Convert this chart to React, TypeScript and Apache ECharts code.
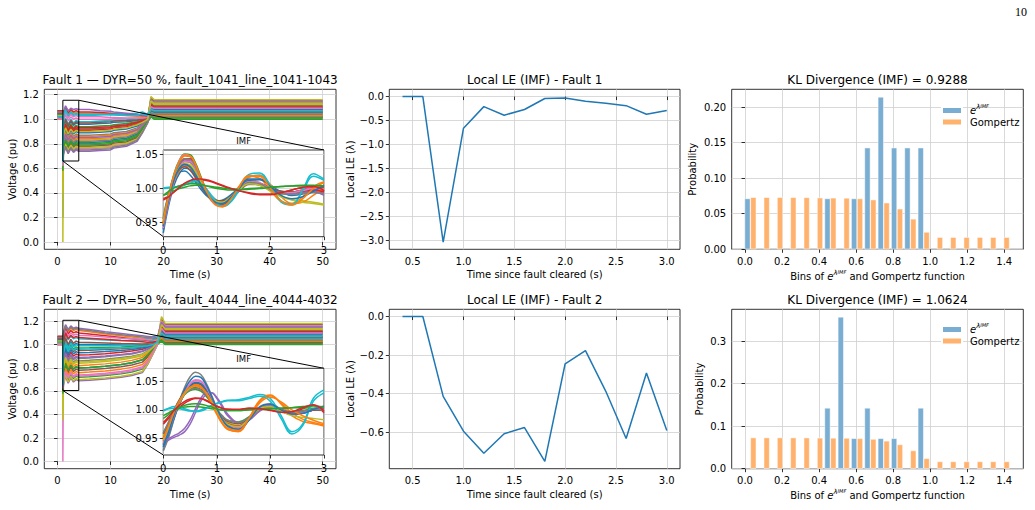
import React, { useEffect, useRef } from "react";
import * as echarts from "echarts";

// ---------------------------------------------------------------------------
// Palette and fonts
// ---------------------------------------------------------------------------
const TAB10 = ["#1f77b4", "#ff7f0e", "#2ca02c", "#d62728", "#9467bd", "#8c564b", "#e377c2", "#7f7f7f", "#bcbd22", "#17becf"];
const FONT = "DejaVu Sans";
const GRID_COLOR = "#cfcfcf";
const BLUE_BAR = "#79add2";
const ORANGE_BAR = "#ffb26e";

// ---------------------------------------------------------------------------
// Fault 1: bus voltages (pu) against simulation time (s)
// ---------------------------------------------------------------------------
const F1_TIME = [0, 1.0, 1.0, 1.1, 1.5, 2.0, 2.5, 3.0, 3.5, 4.0, 6.0, 8.0, 10.0, 10.6, 13.0, 15.0, 16.0, 17.0, 17.6, 18.2, 25.0, 50.0];
const F1_VOLTAGES = [
  [1.02, 1.02, 0.20, 0.78, 0.84, 0.79, 0.83, 0.80, 0.82, 0.81, 0.81, 0.815, 0.82, 0.835, 0.845, 0.88, 0.93, 0.99, 1.07, 1.05, 1.05, 1.05],
  [1.00, 1.00, 0.55, 1.02, 1.09, 1.04, 1.07, 1.05, 1.06, 1.05, 1.05, 1.045, 1.04, 1.04, 1.03, 1.025, 1.02, 1.015, 1.02, 1.01, 1.01, 1.01],
  [1.03, 1.03, 0.70, 0.76, 0.82, 0.77, 0.81, 0.78, 0.80, 0.79, 0.79, 0.795, 0.80, 0.815, 0.825, 0.86, 0.92, 0.98, 1.02, 1.00, 1.00, 1.00],
  [1.07, 1.07, 0.80, 1.04, 1.10, 1.05, 1.08, 1.06, 1.07, 1.06, 1.06, 1.055, 1.05, 1.048, 1.04, 1.035, 1.03, 1.025, 1.03, 1.02, 1.02, 1.02],
  [1.00, 1.00, 0.62, 0.71, 0.77, 0.72, 0.76, 0.73, 0.75, 0.74, 0.74, 0.745, 0.75, 0.765, 0.78, 0.82, 0.89, 0.97, 1.10, 1.08, 1.08, 1.08],
  [1.04, 1.04, 0.75, 0.89, 0.95, 0.90, 0.94, 0.91, 0.93, 0.92, 0.92, 0.925, 0.93, 0.94, 0.95, 0.97, 0.99, 1.01, 1.17, 1.15, 1.15, 1.15],
  [1.06, 1.06, 0.65, 0.73, 0.79, 0.74, 0.78, 0.75, 0.77, 0.76, 0.76, 0.765, 0.77, 0.785, 0.80, 0.84, 0.90, 0.98, 1.14, 1.12, 1.12, 1.12],
  [1.01, 1.01, 0.72, 0.84, 0.90, 0.85, 0.89, 0.86, 0.88, 0.87, 0.87, 0.875, 0.88, 0.89, 0.90, 0.93, 0.96, 1.00, 1.12, 1.10, 1.10, 1.10],
  [1.05, 1.05, 0.00, 0.80, 0.86, 0.81, 0.85, 0.82, 0.84, 0.83, 0.83, 0.835, 0.84, 0.855, 0.865, 0.90, 0.95, 1.00, 1.185, 1.16, 1.16, 1.16],
  [1.04, 1.04, 0.68, 1.00, 1.07, 1.02, 1.05, 1.03, 1.04, 1.03, 1.03, 1.035, 1.04, 1.04, 1.045, 1.05, 1.06, 1.04, 1.08, 1.07, 1.07, 1.07],
  [1.06, 1.06, 0.78, 0.93, 0.99, 0.94, 0.98, 0.95, 0.97, 0.96, 0.96, 0.965, 0.97, 0.975, 0.98, 0.99, 1.00, 1.01, 1.10, 1.09, 1.09, 1.09],
  [1.02, 1.02, 0.50, 0.81, 0.87, 0.82, 0.86, 0.83, 0.85, 0.84, 0.84, 0.845, 0.85, 0.865, 0.875, 0.91, 0.95, 1.00, 1.06, 1.04, 1.04, 1.04],
  [1.00, 1.00, 0.66, 0.91, 0.97, 0.92, 0.96, 0.93, 0.95, 0.94, 0.94, 0.945, 0.95, 0.955, 0.965, 0.98, 0.99, 1.00, 1.04, 1.03, 1.03, 1.03],
  [1.05, 1.05, 0.74, 0.88, 0.94, 0.89, 0.93, 0.90, 0.92, 0.91, 0.91, 0.915, 0.92, 0.93, 0.94, 0.96, 0.98, 1.00, 1.07, 1.06, 1.06, 1.06],
  [1.03, 1.03, 0.70, 1.05, 1.11, 1.07, 1.09, 1.08, 1.085, 1.08, 1.08, 1.07, 1.065, 1.06, 1.05, 1.04, 1.035, 1.03, 1.14, 1.13, 1.13, 1.13],
  [1.07, 1.07, 0.82, 0.75, 0.81, 0.76, 0.80, 0.77, 0.79, 0.78, 0.78, 0.785, 0.79, 0.805, 0.815, 0.85, 0.91, 0.98, 1.13, 1.11, 1.11, 1.11],
  [1.01, 1.01, 0.60, 0.97, 1.04, 0.99, 1.02, 1.00, 1.01, 1.00, 1.00, 1.00, 1.00, 1.005, 1.005, 1.01, 1.01, 1.015, 1.15, 1.14, 1.14, 1.14],
  [1.05, 1.05, 0.76, 0.79, 0.85, 0.80, 0.84, 0.81, 0.83, 0.82, 0.82, 0.825, 0.83, 0.845, 0.855, 0.89, 0.94, 0.99, 1.03, 1.02, 1.02, 1.02],
  [1.00, 1.00, 0.40, 0.74, 0.80, 0.75, 0.79, 0.76, 0.78, 0.77, 0.77, 0.775, 0.78, 0.795, 0.805, 0.84, 0.90, 0.98, 1.15, 1.12, 1.12, 1.12],
  [1.06, 1.06, 0.72, 0.95, 1.01, 0.96, 1.00, 0.97, 0.99, 0.98, 0.98, 0.985, 0.99, 0.99, 0.995, 1.00, 1.01, 1.015, 1.06, 1.05, 1.05, 1.05],
  [1.04, 1.04, 0.68, 0.86, 0.92, 0.87, 0.91, 0.88, 0.90, 0.89, 0.89, 0.895, 0.90, 0.91, 0.92, 0.945, 0.97, 1.00, 1.09, 1.08, 1.08, 1.08],
  [1.01, 1.01, 0.64, 0.83, 0.89, 0.84, 0.88, 0.85, 0.87, 0.86, 0.86, 0.865, 0.87, 0.88, 0.89, 0.92, 0.955, 1.00, 1.04, 1.03, 1.03, 1.03],
  [1.03, 1.03, 0.58, 0.77, 0.83, 0.78, 0.82, 0.79, 0.81, 0.80, 0.80, 0.805, 0.81, 0.825, 0.835, 0.87, 0.925, 0.985, 1.02, 1.01, 1.01, 1.01],
  [1.07, 1.07, 0.80, 0.90, 0.96, 0.91, 0.95, 0.92, 0.94, 0.93, 0.93, 0.935, 0.94, 0.945, 0.955, 0.975, 0.99, 1.005, 1.115, 1.10, 1.10, 1.10],
  [1.02, 1.02, 0.66, 0.82, 0.88, 0.83, 0.87, 0.84, 0.86, 0.85, 0.85, 0.855, 0.86, 0.875, 0.885, 0.915, 0.955, 1.00, 1.16, 1.14, 1.14, 1.14],
  [1.05, 1.05, 0.78, 0.94, 1.00, 0.95, 0.99, 0.96, 0.98, 0.97, 0.97, 0.975, 0.98, 0.985, 0.99, 0.995, 1.00, 1.01, 1.07, 1.06, 1.06, 1.06],
  [1.00, 1.00, 0.62, 0.99, 1.06, 1.01, 1.04, 1.02, 1.03, 1.02, 1.02, 1.02, 1.015, 1.015, 1.01, 1.01, 1.01, 1.015, 1.10, 1.09, 1.09, 1.09],
  [1.06, 1.06, 0.74, 0.72, 0.78, 0.73, 0.77, 0.74, 0.76, 0.75, 0.75, 0.755, 0.76, 0.775, 0.79, 0.83, 0.895, 0.975, 1.05, 1.04, 1.04, 1.04],
  [1.03, 1.03, 0.70, 0.87, 0.93, 0.88, 0.92, 0.89, 0.91, 0.90, 0.90, 0.905, 0.91, 0.92, 0.93, 0.955, 0.975, 1.00, 1.15, 1.13, 1.13, 1.13],
  [1.02, 1.02, 0.65, 1.01, 1.08, 1.03, 1.06, 1.04, 1.05, 1.04, 1.04, 1.04, 1.035, 1.035, 1.03, 1.03, 1.045, 1.03, 1.08, 1.07, 1.07, 1.07],
];

// ---------------------------------------------------------------------------
// Fault 2: bus voltages (pu) against simulation time (s)
// ---------------------------------------------------------------------------
const F2_TIME = [0, 1.0, 1.0, 1.1, 1.5, 2.0, 2.5, 3.0, 3.5, 4.0, 6.0, 9.0, 12.0, 14.0, 16.0, 17.0, 18.0, 18.8, 19.6, 20.3, 30.0, 50.0];
const F2_VOLTAGES = [
  [1.02, 1.02, 0.45, 0.76, 0.84, 0.78, 0.825, 0.79, 0.81, 0.80, 0.805, 0.815, 0.83, 0.845, 0.87, 0.91, 0.96, 1.02, 1.10, 1.06, 1.06, 1.06],
  [1.00, 1.00, 0.62, 1.08, 1.16, 1.11, 1.14, 1.12, 1.13, 1.12, 1.11, 1.09, 1.075, 1.065, 1.055, 1.05, 1.045, 1.04, 1.05, 1.02, 1.02, 1.02],
  [1.03, 1.03, 0.70, 0.68, 0.76, 0.70, 0.745, 0.71, 0.73, 0.72, 0.725, 0.735, 0.75, 0.765, 0.79, 0.85, 0.93, 1.00, 1.03, 1.00, 1.00, 1.00],
  [1.07, 1.07, 0.80, 1.06, 1.14, 1.09, 1.12, 1.10, 1.11, 1.10, 1.09, 1.075, 1.06, 1.05, 1.04, 1.035, 1.03, 1.025, 1.04, 1.02, 1.02, 1.02],
  [1.00, 1.00, 0.60, 0.65, 0.73, 0.67, 0.715, 0.68, 0.70, 0.69, 0.695, 0.705, 0.72, 0.735, 0.76, 0.83, 0.92, 0.995, 1.13, 1.09, 1.09, 1.09],
  [1.04, 1.04, 0.75, 0.91, 0.99, 0.93, 0.975, 0.94, 0.96, 0.95, 0.952, 0.958, 0.965, 0.97, 0.98, 0.99, 1.00, 1.02, 1.22, 1.17, 1.17, 1.17],
  [1.06, 1.06, 0.00, 0.70, 0.78, 0.72, 0.765, 0.73, 0.75, 0.74, 0.745, 0.755, 0.77, 0.785, 0.81, 0.86, 0.94, 1.005, 1.17, 1.13, 1.13, 1.13],
  [1.01, 1.01, 0.72, 0.84, 0.92, 0.86, 0.905, 0.87, 0.89, 0.88, 0.885, 0.895, 0.91, 0.92, 0.94, 0.96, 0.985, 1.02, 1.15, 1.11, 1.11, 1.11],
  [1.05, 1.05, 0.35, 0.80, 0.88, 0.82, 0.865, 0.83, 0.85, 0.84, 0.845, 0.855, 0.87, 0.885, 0.905, 0.935, 0.975, 1.02, 1.24, 1.18, 1.18, 1.18],
  [1.04, 1.04, 0.55, 1.01, 1.09, 1.04, 1.07, 1.05, 1.06, 1.05, 1.045, 1.04, 1.035, 1.035, 1.04, 1.05, 1.07, 1.075, 1.10, 1.08, 1.08, 1.08],
  [1.06, 1.06, 0.78, 0.96, 1.04, 0.98, 1.025, 0.99, 1.01, 1.00, 1.00, 0.998, 0.996, 0.995, 0.995, 1.00, 1.005, 1.02, 1.13, 1.10, 1.10, 1.10],
  [1.02, 1.02, 0.65, 0.78, 0.86, 0.80, 0.845, 0.81, 0.83, 0.82, 0.825, 0.835, 0.85, 0.865, 0.89, 0.925, 0.97, 1.015, 1.07, 1.04, 1.04, 1.04],
  [1.00, 1.00, 0.66, 0.93, 1.01, 0.95, 0.995, 0.96, 0.98, 0.97, 0.972, 0.976, 0.98, 0.984, 0.99, 0.995, 1.00, 1.015, 1.06, 1.03, 1.03, 1.03],
  [1.05, 1.05, 0.74, 0.87, 0.95, 0.89, 0.935, 0.90, 0.92, 0.91, 0.914, 0.922, 0.935, 0.945, 0.96, 0.975, 0.99, 1.02, 1.11, 1.07, 1.07, 1.07],
  [1.03, 1.03, 0.70, 1.10, 1.17, 1.13, 1.16, 1.14, 1.15, 1.14, 1.13, 1.11, 1.095, 1.085, 1.075, 1.07, 1.065, 1.06, 1.19, 1.15, 1.15, 1.15],
  [1.07, 1.07, 0.82, 0.74, 0.82, 0.76, 0.805, 0.77, 0.79, 0.78, 0.785, 0.795, 0.81, 0.825, 0.85, 0.895, 0.955, 1.015, 1.16, 1.12, 1.12, 1.12],
  [1.01, 1.01, 0.60, 1.04, 1.12, 1.07, 1.10, 1.08, 1.09, 1.08, 1.075, 1.065, 1.055, 1.05, 1.045, 1.04, 1.04, 1.04, 1.20, 1.16, 1.16, 1.16],
  [1.05, 1.05, 0.76, 0.82, 0.90, 0.84, 0.885, 0.85, 0.87, 0.86, 0.865, 0.875, 0.89, 0.90, 0.92, 0.945, 0.975, 1.015, 1.04, 1.01, 1.01, 1.01],
  [1.00, 1.00, 0.40, 0.66, 0.74, 0.68, 0.725, 0.69, 0.71, 0.70, 0.705, 0.715, 0.73, 0.745, 0.77, 0.835, 0.925, 0.998, 1.18, 1.14, 1.14, 1.14],
  [1.06, 1.06, 0.72, 0.95, 1.03, 0.97, 1.015, 0.98, 1.00, 0.99, 0.99, 0.99, 0.992, 0.995, 1.00, 1.01, 1.04, 1.06, 1.08, 1.05, 1.05, 1.05],
  [1.04, 1.04, 0.68, 0.89, 0.97, 0.91, 0.955, 0.92, 0.94, 0.93, 0.933, 0.94, 0.95, 0.958, 0.97, 0.98, 0.995, 1.02, 1.13, 1.09, 1.09, 1.09],
  [1.01, 1.01, 0.64, 0.72, 0.80, 0.74, 0.785, 0.75, 0.77, 0.76, 0.765, 0.775, 0.79, 0.805, 0.83, 0.875, 0.945, 1.01, 1.06, 1.03, 1.03, 1.03],
  [1.03, 1.03, 0.58, 0.76, 0.84, 0.78, 0.825, 0.79, 0.81, 0.80, 0.805, 0.815, 0.83, 0.845, 0.87, 0.91, 0.96, 1.015, 1.04, 1.01, 1.01, 1.01],
  [1.07, 1.07, 0.80, 1.02, 1.10, 1.05, 1.08, 1.06, 1.07, 1.06, 1.055, 1.045, 1.035, 1.03, 1.025, 1.02, 1.02, 1.02, 1.15, 1.11, 1.11, 1.11],
  [1.02, 1.02, 0.66, 0.85, 0.93, 0.87, 0.915, 0.88, 0.90, 0.89, 0.894, 0.903, 0.915, 0.925, 0.945, 0.965, 0.985, 1.02, 1.19, 1.15, 1.15, 1.15],
  [1.05, 1.05, 0.78, 0.98, 1.06, 1.00, 1.045, 1.01, 1.03, 1.02, 1.018, 1.014, 1.01, 1.008, 1.006, 1.006, 1.008, 1.02, 1.09, 1.06, 1.06, 1.06],
  [1.00, 1.00, 0.62, 0.69, 0.77, 0.71, 0.755, 0.72, 0.74, 0.73, 0.735, 0.745, 0.76, 0.775, 0.80, 0.855, 0.935, 1.003, 1.14, 1.10, 1.10, 1.10],
  [1.06, 1.06, 0.74, 1.09, 1.16, 1.12, 1.15, 1.13, 1.14, 1.13, 1.12, 1.10, 1.085, 1.075, 1.065, 1.06, 1.055, 1.05, 1.07, 1.04, 1.04, 1.04],
  [1.03, 1.03, 0.70, 0.81, 0.89, 0.83, 0.875, 0.84, 0.86, 0.85, 0.855, 0.865, 0.88, 0.893, 0.915, 0.94, 0.975, 1.02, 1.17, 1.13, 1.13, 1.13],
  [1.02, 1.02, 0.65, 0.92, 1.00, 0.94, 0.985, 0.95, 0.97, 0.96, 0.962, 0.967, 0.972, 0.976, 0.985, 0.99, 1.00, 1.02, 1.10, 1.07, 1.07, 1.07],
];

// Zoom boxes drawn on the voltage plots (time s, voltage pu)
const F1_BOX_T = [1.0, 4.0];
const F1_BOX_V = [0.66, 1.155];
const F2_BOX_T = [1.0, 4.0];
const F2_BOX_V = [0.607, 1.208];

// ---------------------------------------------------------------------------
// IMF insets: time since fault cleared (s)
// ---------------------------------------------------------------------------
const IMF_TIME = [0, 0.1, 0.2, 0.3, 0.4, 0.5, 0.6, 0.7, 0.8, 0.9, 1.0, 1.1, 1.2, 1.4, 1.6, 1.8, 2.0, 2.2, 2.4, 2.6, 2.8, 3.0];
const IMF1_CURVES = [
  [0.935, 0.975, 1.005, 1.022, 1.030, 1.028, 1.018, 1.005, 0.993, 0.985, 0.980, 0.979, 0.982, 0.995, 1.008, 1.006, 0.998, 0.993, 0.994, 0.998, 1.000, 0.997],
  [0.945, 0.985, 1.018, 1.038, 1.048, 1.047, 1.035, 1.015, 0.996, 0.982, 0.975, 0.974, 0.980, 1.002, 1.018, 1.015, 0.997, 0.981, 0.977, 0.988, 1.003, 1.010],
  [0.950, 0.990, 1.022, 1.042, 1.051, 1.050, 1.038, 1.018, 0.998, 0.984, 0.977, 0.976, 0.981, 0.999, 1.012, 1.008, 0.998, 0.992, 0.993, 0.997, 0.999, 0.996],
  [0.985, 0.989, 0.995, 1.001, 1.007, 1.011, 1.013, 1.013, 1.012, 1.010, 1.007, 1.004, 1.001, 0.997, 0.994, 0.992, 0.992, 0.994, 0.998, 1.001, 1.001, 0.996],
  [0.940, 0.980, 1.012, 1.032, 1.042, 1.041, 1.030, 1.012, 0.995, 0.983, 0.977, 0.977, 0.982, 0.998, 1.010, 1.007, 0.999, 0.994, 0.993, 0.995, 0.996, 0.993],
  [0.955, 0.990, 1.016, 1.030, 1.036, 1.034, 1.024, 1.010, 0.996, 0.986, 0.981, 0.980, 0.984, 0.998, 1.009, 1.007, 1.000, 0.995, 0.995, 0.998, 0.999, 0.997],
  [0.945, 0.985, 1.020, 1.041, 1.050, 1.048, 1.035, 1.014, 0.995, 0.982, 0.976, 0.976, 0.982, 1.001, 1.013, 1.009, 0.999, 0.993, 0.994, 0.998, 1.000, 0.998],
  [0.950, 0.988, 1.014, 1.028, 1.034, 1.033, 1.025, 1.012, 0.999, 0.989, 0.983, 0.981, 0.983, 0.995, 1.006, 1.006, 1.001, 0.996, 0.994, 0.995, 0.998, 1.001],
  [0.960, 0.993, 1.018, 1.033, 1.040, 1.038, 1.028, 1.012, 0.997, 0.986, 0.980, 0.979, 0.983, 0.998, 1.010, 1.008, 0.998, 0.989, 0.984, 0.982, 0.980, 0.977],
  [1.001, 1.002, 1.002, 1.003, 1.005, 1.008, 1.010, 1.008, 1.000, 0.990, 0.981, 0.976, 0.977, 0.995, 1.017, 1.020, 1.003, 0.982, 0.978, 0.996, 1.018, 1.012],
  [0.940, 0.982, 1.010, 1.024, 1.026, 1.020, 1.010, 0.999, 0.990, 0.984, 0.982, 0.983, 0.987, 1.000, 1.012, 1.013, 1.005, 0.995, 0.990, 0.992, 0.998, 1.004],
  [0.950, 0.983, 1.010, 1.026, 1.033, 1.031, 1.022, 1.008, 0.994, 0.983, 0.977, 0.976, 0.981, 1.000, 1.017, 1.019, 1.006, 0.988, 0.978, 0.980, 0.990, 1.001],
  [0.990, 0.993, 0.997, 1.000, 1.002, 1.004, 1.005, 1.005, 1.004, 1.003, 1.002, 1.001, 1.000, 0.999, 1.000, 1.001, 1.002, 1.003, 1.004, 1.004, 1.003, 1.002],
  [0.945, 0.984, 1.014, 1.034, 1.044, 1.044, 1.034, 1.016, 0.998, 0.985, 0.978, 0.977, 0.981, 0.997, 1.009, 1.006, 0.998, 0.993, 0.993, 0.996, 0.998, 0.995],
  [0.955, 0.991, 1.017, 1.033, 1.040, 1.039, 1.030, 1.014, 0.998, 0.986, 0.979, 0.978, 0.982, 0.996, 1.007, 1.005, 0.998, 0.993, 0.992, 0.994, 0.995, 0.990],
  [0.948, 0.986, 1.013, 1.028, 1.032, 1.027, 1.016, 1.003, 0.992, 0.985, 0.982, 0.982, 0.985, 0.997, 1.007, 1.007, 1.001, 0.996, 0.995, 0.997, 1.000, 1.002],
  [0.942, 0.980, 1.011, 1.031, 1.040, 1.040, 1.031, 1.015, 0.999, 0.987, 0.980, 0.979, 0.983, 0.998, 1.010, 1.008, 1.000, 0.994, 0.994, 0.997, 1.000, 0.999],
  [0.958, 0.992, 1.019, 1.036, 1.044, 1.043, 1.033, 1.016, 0.999, 0.986, 0.979, 0.978, 0.982, 0.997, 1.009, 1.007, 0.999, 0.993, 0.992, 0.993, 0.994, 0.992],
  [0.952, 0.988, 1.015, 1.031, 1.037, 1.035, 1.025, 1.010, 0.996, 0.986, 0.981, 0.980, 0.984, 0.997, 1.007, 1.005, 0.996, 0.988, 0.983, 0.980, 0.978, 0.976],
  [1.000, 1.001, 1.002, 1.004, 1.007, 1.010, 1.011, 1.007, 0.998, 0.987, 0.978, 0.974, 0.976, 0.997, 1.021, 1.023, 1.004, 0.980, 0.976, 0.998, 1.022, 1.014],
  [0.944, 0.983, 1.013, 1.030, 1.036, 1.032, 1.021, 1.006, 0.993, 0.984, 0.979, 0.978, 0.982, 0.999, 1.014, 1.014, 1.003, 0.990, 0.985, 0.988, 0.996, 1.005],
  [0.948, 0.988, 1.020, 1.040, 1.049, 1.048, 1.036, 1.016, 0.997, 0.983, 0.975, 0.973, 0.978, 1.000, 1.019, 1.018, 1.000, 0.982, 0.976, 0.985, 1.000, 1.009],
  [0.990, 0.996, 1.001, 1.004, 1.006, 1.007, 1.007, 1.006, 1.004, 1.002, 1.000, 0.999, 0.998, 0.998, 0.999, 1.000, 1.002, 1.003, 1.004, 1.005, 1.005, 1.004],
  [0.983, 0.988, 0.995, 1.002, 1.008, 1.012, 1.014, 1.014, 1.013, 1.011, 1.008, 1.005, 1.002, 0.997, 0.993, 0.991, 0.991, 0.994, 0.998, 1.002, 1.003, 0.997],
];
const IMF2_CURVES = [
  [0.930, 0.955, 0.985, 1.010, 1.028, 1.040, 1.046, 1.044, 1.034, 1.018, 1.000, 0.985, 0.975, 0.970, 0.985, 1.005, 1.008, 0.998, 0.992, 0.995, 1.002, 1.005],
  [0.945, 0.970, 0.995, 1.015, 1.030, 1.040, 1.045, 1.042, 1.030, 1.012, 0.993, 0.977, 0.966, 0.962, 0.985, 1.015, 1.025, 1.012, 0.995, 0.984, 0.978, 0.974],
  [0.960, 0.978, 0.998, 1.015, 1.027, 1.034, 1.036, 1.033, 1.024, 1.012, 0.999, 0.989, 0.982, 0.979, 0.988, 1.001, 1.004, 1.000, 0.997, 0.999, 1.002, 1.003],
  [0.975, 0.985, 0.995, 1.004, 1.012, 1.017, 1.020, 1.020, 1.017, 1.012, 1.007, 1.003, 1.001, 1.000, 1.003, 1.003, 1.000, 0.996, 0.995, 1.002, 1.008, 0.995],
  [0.940, 0.947, 0.952, 0.956, 0.962, 0.975, 0.995, 1.015, 1.027, 1.030, 1.022, 1.008, 0.993, 0.978, 0.982, 0.998, 1.006, 1.002, 0.996, 0.996, 1.000, 1.002],
  [0.950, 0.972, 0.996, 1.016, 1.031, 1.042, 1.047, 1.045, 1.035, 1.019, 1.001, 0.986, 0.976, 0.970, 0.983, 1.002, 1.007, 0.999, 0.993, 0.995, 1.000, 1.002],
  [0.935, 0.958, 0.986, 1.011, 1.030, 1.044, 1.051, 1.049, 1.038, 1.021, 1.002, 0.986, 0.975, 0.969, 0.984, 1.004, 1.008, 0.999, 0.993, 0.996, 1.002, 1.006],
  [0.928, 0.952, 0.984, 1.015, 1.040, 1.058, 1.066, 1.062, 1.047, 1.026, 1.003, 0.984, 0.971, 0.966, 0.983, 1.006, 1.011, 1.001, 0.993, 0.994, 1.001, 1.007],
  [0.955, 0.975, 0.998, 1.017, 1.030, 1.038, 1.041, 1.039, 1.030, 1.016, 1.000, 0.987, 0.978, 0.973, 0.985, 1.002, 1.006, 0.999, 0.994, 0.996, 1.000, 1.001],
  [1.000, 1.002, 1.003, 1.002, 1.000, 0.998, 0.998, 1.000, 1.004, 1.008, 1.012, 1.015, 1.017, 1.018, 1.022, 1.027, 1.020, 0.990, 0.962, 0.975, 1.020, 1.035],
  [0.935, 0.958, 0.986, 1.010, 1.029, 1.042, 1.048, 1.046, 1.036, 1.019, 1.000, 0.984, 0.973, 0.967, 0.982, 1.003, 1.008, 0.999, 0.992, 0.994, 1.000, 1.004],
  [0.940, 0.964, 0.990, 1.012, 1.028, 1.038, 1.043, 1.040, 1.029, 1.011, 0.992, 0.976, 0.966, 0.963, 0.986, 1.017, 1.026, 1.010, 0.990, 0.980, 0.976, 0.972],
  [0.990, 0.995, 1.000, 1.003, 1.005, 1.006, 1.006, 1.005, 1.004, 1.002, 1.001, 1.000, 0.999, 0.999, 1.000, 1.001, 1.002, 1.003, 1.004, 1.004, 1.003, 1.002],
  [0.950, 0.972, 0.996, 1.016, 1.030, 1.039, 1.042, 1.040, 1.031, 1.016, 0.999, 0.985, 0.976, 0.972, 0.985, 1.003, 1.007, 0.999, 0.993, 0.995, 1.000, 1.003],
  [0.945, 0.950, 0.955, 0.960, 0.968, 0.982, 1.002, 1.020, 1.030, 1.030, 1.020, 1.005, 0.990, 0.977, 0.983, 0.999, 1.006, 1.001, 0.995, 0.996, 1.001, 1.004],
  [0.958, 0.978, 1.000, 1.018, 1.030, 1.037, 1.039, 1.036, 1.027, 1.014, 1.000, 0.988, 0.980, 0.976, 0.986, 1.001, 1.005, 1.000, 0.996, 0.997, 1.000, 0.999],
  [0.940, 0.962, 0.990, 1.014, 1.033, 1.046, 1.053, 1.051, 1.040, 1.022, 1.002, 0.985, 0.974, 0.968, 0.983, 1.004, 1.009, 1.000, 0.993, 0.995, 1.001, 1.005],
  [0.960, 0.979, 0.999, 1.016, 1.028, 1.035, 1.038, 1.035, 1.027, 1.014, 1.001, 0.990, 0.982, 0.978, 0.987, 1.001, 1.004, 0.999, 0.996, 0.998, 1.001, 1.000],
  [0.948, 0.970, 0.994, 1.014, 1.029, 1.038, 1.042, 1.040, 1.030, 1.015, 0.998, 0.984, 0.975, 0.971, 0.984, 1.002, 1.006, 0.998, 0.990, 0.987, 0.985, 0.983],
  [0.998, 1.003, 1.006, 1.005, 1.002, 0.999, 0.997, 0.998, 1.002, 1.007, 1.011, 1.014, 1.016, 1.016, 1.020, 1.024, 1.015, 0.985, 0.958, 0.972, 1.015, 1.030],
  [0.938, 0.962, 0.991, 1.016, 1.036, 1.051, 1.059, 1.057, 1.044, 1.024, 1.002, 0.984, 0.972, 0.966, 0.982, 1.005, 1.010, 1.000, 0.993, 0.994, 1.001, 1.006],
  [0.950, 0.972, 0.996, 1.016, 1.031, 1.040, 1.043, 1.040, 1.029, 1.012, 0.994, 0.978, 0.968, 0.964, 0.985, 1.012, 1.022, 1.014, 1.000, 0.990, 0.982, 0.976],
  [0.985, 0.992, 0.999, 1.004, 1.008, 1.010, 1.011, 1.010, 1.008, 1.005, 1.002, 1.000, 0.999, 0.999, 1.001, 1.002, 1.002, 1.003, 1.004, 1.006, 1.007, 1.005],
  [0.978, 0.988, 0.999, 1.008, 1.015, 1.019, 1.021, 1.020, 1.016, 1.011, 1.006, 1.003, 1.001, 1.001, 1.003, 1.002, 0.999, 0.996, 0.997, 1.004, 1.009, 0.998],
];

// ---------------------------------------------------------------------------
// Local Lyapunov exponent of the IMF
// ---------------------------------------------------------------------------
const LE_TIME = [0.4, 0.6, 0.8, 1.0, 1.2, 1.4, 1.6, 1.8, 2.0, 2.2, 2.4, 2.6, 2.8, 3.0];
const LE_F1 = [0.0, 0.0, -3.04, -0.66, -0.21, -0.39, -0.27, -0.04, -0.03, -0.10, -0.14, -0.19, -0.37, -0.29];
const LE_F2 = [0.0, 0.0, -0.414, -0.595, -0.709, -0.608, -0.576, -0.752, -0.245, -0.177, -0.388, -0.633, -0.293, -0.591];

// ---------------------------------------------------------------------------
// Histograms of e^λ against the Gompertz reference
// ---------------------------------------------------------------------------
const BIN_CENTERS = [0.029, 0.101, 0.173, 0.245, 0.317, 0.389, 0.461, 0.533, 0.605, 0.677, 0.749, 0.821, 0.893, 0.965, 1.037, 1.109, 1.181, 1.253, 1.325, 1.397];
const BIN_WIDTH = 0.072;
const EXP_F1 = [0.0714, 0, 0, 0, 0, 0, 0.0714, 0, 0.0714, 0.1429, 0.2143, 0.1429, 0.1429, 0.1429, 0, 0, 0, 0, 0, 0];
const EXP_F2 = [0, 0, 0, 0, 0, 0, 0.1429, 0.3571, 0.0714, 0.1429, 0.0714, 0.0714, 0, 0.1429, 0, 0, 0, 0, 0, 0];
const GOMPERTZ = [0.0732, 0.0732, 0.0732, 0.0731, 0.0730, 0.0726, 0.0724, 0.0722, 0.0714, 0.0698, 0.0655, 0.0570, 0.0428, 0.0243, 0.0170, 0.0170, 0.0170, 0.0170, 0.0170, 0.0170];

// Tick positions
const T_TICKS = [0, 10, 20, 30, 40, 50];
const V_TICKS = [0, 0.2, 0.4, 0.6, 0.8, 1.0, 1.2];
const LE_T_TICKS = [0.5, 1.0, 1.5, 2.0, 2.5, 3.0];
const LE1_TICKS = [0, -0.5, -1.0, -1.5, -2.0, -2.5, -3.0];
const LE2_TICKS = [0, -0.2, -0.4, -0.6];
const BIN_TICKS = [0, 0.2, 0.4, 0.6, 0.8, 1.0, 1.2, 1.4];
const P1_TICKS = [0, 0.05, 0.1, 0.15, 0.2];
const P2_TICKS = [0, 0.1, 0.2, 0.3];
const IMF_T_TICKS = [0, 1, 2, 3];
const IMF_V_TICKS = [0.95, 1.0, 1.05];

const TITLES = [
  ["Fault 1 \u2014 DYR=50 %, fault_1041_line_1041-1043", "Local LE (IMF) - Fault 1", "KL Divergence (IMF) = 0.9288"],
  ["Fault 2 \u2014 DYR=50 %, fault_4044_line_4044-4032", "Local LE (IMF) - Fault 2", "KL Divergence (IMF) = 1.0624"],
];

// ---------------------------------------------------------------------------
// Layout (pixels)
// ---------------------------------------------------------------------------
const COL_LEFT = [44.3, 389.3, 731.7];
const COL_WIDTH = [291.7, 290.7, 291.6];
const ROW_TOP = [89.3, 309.3];
const ROW_HEIGHT = [160, 159.4];
const INSET_LEFT = 163.3;
const INSET_WIDTH = 160.7;
const INSET_HEIGHT = 86.7;
const INSET_TOP = [150, 368.3];

const HIST_X_RANGE: [number, number] = [-0.072, 1.503];

function padded(values: number[]): [number, number] {
  const lo = Math.min(...values);
  const hi = Math.max(...values);
  const d = (hi - lo) * 0.05;
  return [lo - d, hi + d];
}

const withMinus = (s: string) => s.replace("-", "\u2212");

const MATH_RICH = {
  t: { fontFamily: FONT, fontSize: 10, color: "#000", lineHeight: 14 },
  e: { fontFamily: FONT, fontSize: 10, fontStyle: "italic", color: "#000", lineHeight: 14 },
  l: { fontFamily: FONT, fontSize: 7, fontStyle: "italic", color: "#000", lineHeight: 7, verticalAlign: "top" },
  s: { fontFamily: FONT, fontSize: 5, fontStyle: "italic", color: "#000", lineHeight: 11, verticalAlign: "top" },
};

function valueAxis(gridIndex: number, range: [number, number], ticks: number[], digits: number, extra: any = {}, labelMargin = 5.5) {
  return {
    type: "value",
    gridIndex,
    min: range[0],
    max: range[1],
    axisLine: { show: false },
    axisTick: { show: true, length: 3.5, customValues: ticks, lineStyle: { color: "#000", width: 0.8 } },
    axisLabel: {
      show: true,
      customValues: ticks,
      margin: labelMargin,
      color: "#000",
      fontFamily: FONT,
      fontSize: 10,
      formatter: (v: number) => withMinus(v.toFixed(digits)),
    },
    splitLine: { show: true, lineStyle: { color: GRID_COLOR, width: 0.8 } },
    nameLocation: "middle",
    nameTextStyle: { fontFamily: FONT, fontSize: 10, color: "#000", rich: MATH_RICH },
    ...extra,
  };
}

function curveSeries(times: number[], curves: number[][], axisIndex: number, z: number, smooth: number | boolean) {
  return curves.map((vals, i) => ({
    type: "line",
    xAxisIndex: axisIndex,
    yAxisIndex: axisIndex,
    data: times.map((t, k) => [t, vals[k]]),
    showSymbol: false,
    smooth,
    silent: true,
    z,
    lineStyle: { width: 1.5, color: TAB10[i % 10] },
    itemStyle: { color: TAB10[i % 10] },
  }));
}

function boxSeries(ts: number[], vs: number[], axisIndex: number) {
  return {
    type: "line",
    xAxisIndex: axisIndex,
    yAxisIndex: axisIndex,
    data: [[ts[0], vs[0]], [ts[1], vs[0]], [ts[1], vs[1]], [ts[0], vs[1]], [ts[0], vs[0]]],
    showSymbol: false,
    silent: true,
    z: 5,
    lineStyle: { width: 1, color: "#000" },
    itemStyle: { color: "#000" },
  };
}

function histSeries(name: string, values: number[], color: string, axisIndex: number, barPx: number) {
  return {
    type: "bar",
    name,
    xAxisIndex: axisIndex,
    yAxisIndex: axisIndex,
    data: BIN_CENTERS.map((x, i) => [x, values[i]]).filter((d) => d[1] > 0),
    barWidth: barPx,
    barGap: "0%",
    silent: true,
    itemStyle: { color, borderColor: "#ffffff", borderWidth: 0.5 },
  };
}

export default function App() {
  const ref = useRef<HTMLDivElement>(null);

  useEffect(() => {
    if (!ref.current) return;
    const chart = echarts.init(ref.current, undefined, { renderer: "svg" });

    const grids: any[] = [];
    for (let r = 0; r < 2; r++) {
      for (let c = 0; c < 3; c++) {
        grids.push({
          left: COL_LEFT[c],
          top: ROW_TOP[r],
          width: COL_WIDTH[c],
          height: ROW_HEIGHT[r],
          show: true,
          backgroundColor: "transparent",
          borderColor: "#000",
          borderWidth: 0.8,
        });
      }
    }
    for (let k = 0; k < 2; k++) {
      grids.push({
        left: INSET_LEFT,
        top: INSET_TOP[k],
        width: INSET_WIDTH,
        height: INSET_HEIGHT,
        show: true,
        backgroundColor: "#ffffff",
        borderColor: "#000",
        borderWidth: 0.8,
        z: 10,
      });
    }

    const v1Range = padded(F1_VOLTAGES.flat());
    const v2Range = padded(F2_VOLTAGES.flat());
    const tRange = padded([...F1_TIME, ...F2_TIME]);
    const leTRange = padded(LE_TIME);
    const le1Range = padded(LE_F1);
    const le2Range = padded(LE_F2);
    const p1Range: [number, number] = [0, Math.max(...EXP_F1, ...GOMPERTZ) * 1.05];
    const p2Range: [number, number] = [0, Math.max(...EXP_F2, ...GOMPERTZ) * 1.05];
    const imf1Range = padded(IMF1_CURVES.flat());
    const imf2Range = padded(IMF2_CURVES.flat());
    const imfTRange: [number, number] = [IMF_TIME[0], IMF_TIME[IMF_TIME.length - 1]];

    const binsName = "{t|Bins of }{e|e}{l|\u03bb}{s|IMF}{t| and Gompertz function}";

    const xAxes = [
      valueAxis(0, tRange, T_TICKS, 0, { name: "Time (s)", nameGap: 20.5 }, 7),
      valueAxis(1, leTRange, LE_T_TICKS, 1, { name: "Time since fault cleared (s)", nameGap: 20.5 }, 7),
      valueAxis(2, HIST_X_RANGE, BIN_TICKS, 1, { name: binsName, nameGap: 20 }, 7),
      valueAxis(3, tRange, T_TICKS, 0, { name: "Time (s)", nameGap: 20.5 }, 7),
      valueAxis(4, leTRange, LE_T_TICKS, 1, { name: "Time since fault cleared (s)", nameGap: 20.5 }, 7),
      valueAxis(5, HIST_X_RANGE, BIN_TICKS, 1, { name: binsName, nameGap: 20 }, 7),
      valueAxis(6, imfTRange, IMF_T_TICKS, 0, { z: 11 }, 8.5),
      valueAxis(7, imfTRange, IMF_T_TICKS, 0, { z: 11 }, 8.5),
    ];
    const yAxes = [
      valueAxis(0, v1Range, V_TICKS, 1, { name: "Voltage (pu)", nameGap: 27 }),
      valueAxis(1, le1Range, LE1_TICKS, 1, { name: "Local LE (\u03bb)", nameGap: 34 }),
      valueAxis(2, p1Range, P1_TICKS, 2, { name: "Probability", nameGap: 34 }),
      valueAxis(3, v2Range, V_TICKS, 1, { name: "Voltage (pu)", nameGap: 27 }),
      valueAxis(4, le2Range, LE2_TICKS, 1, { name: "Local LE (\u03bb)", nameGap: 34 }),
      valueAxis(5, p2Range, P2_TICKS, 1, { name: "Probability", nameGap: 27.5 }),
      valueAxis(6, imf1Range, IMF_V_TICKS, 2, { z: 11 }),
      valueAxis(7, imf2Range, IMF_V_TICKS, 2, { z: 11 }),
    ];

    const barPx = ((0.44 * BIN_WIDTH) / (HIST_X_RANGE[1] - HIST_X_RANGE[0])) * COL_WIDTH[2];

    const leLine = (data: number[], axisIndex: number) => ({
      type: "line",
      xAxisIndex: axisIndex,
      yAxisIndex: axisIndex,
      data: LE_TIME.map((t, i) => [t, data[i]]),
      showSymbol: false,
      silent: true,
      lineStyle: { width: 1.5, color: TAB10[0] },
      itemStyle: { color: TAB10[0] },
    });

    const series: any[] = [
      ...curveSeries(F1_TIME, F1_VOLTAGES, 0, 2, false),
      boxSeries(F1_BOX_T, F1_BOX_V, 0),
      leLine(LE_F1, 1),
      histSeries("e\u03bb fault 1", EXP_F1, BLUE_BAR, 2, barPx),
      histSeries("Gompertz fault 1", GOMPERTZ, ORANGE_BAR, 2, barPx),
      ...curveSeries(F2_TIME, F2_VOLTAGES, 3, 2, false),
      boxSeries(F2_BOX_T, F2_BOX_V, 3),
      leLine(LE_F2, 4),
      histSeries("e\u03bb fault 2", EXP_F2, BLUE_BAR, 5, barPx),
      histSeries("Gompertz fault 2", GOMPERTZ, ORANGE_BAR, 5, barPx),
      ...curveSeries(IMF_TIME, IMF1_CURVES, 6, 12, 0.4),
      ...curveSeries(IMF_TIME, IMF2_CURVES, 7, 12, 0.4),
    ];

    const legendFormatter = (name: string) => (name.startsWith("e\u03bb") ? "{e|e}{l|\u03bb}{s|IMF}" : "{t|Gompertz}");
    const legendBase = {
      orient: "vertical",
      left: 936,
      itemWidth: 20,
      itemHeight: 7,
      itemGap: 1.5,
      icon: "rect",
      selectedMode: false,
      formatter: legendFormatter,
      textStyle: { fontFamily: FONT, fontSize: 10, color: "#000", padding: [0, 0, 0, 3], rich: MATH_RICH },
    };

    chart.setOption({
      animation: false,
      backgroundColor: "#ffffff",
      textStyle: { fontFamily: FONT },
      grid: grids,
      xAxis: xAxes,
      yAxis: yAxes,
      legend: [
        { ...legendBase, top: ROW_TOP[0] + 9.2, data: ["e\u03bb fault 1", "Gompertz fault 1"] },
        { ...legendBase, top: ROW_TOP[1] + 8.2, data: ["e\u03bb fault 2", "Gompertz fault 2"] },
      ],
      series,
    });

    // Titles, inset captions and the connectors between zoom boxes and insets
    const graphic: any[] = [];
    const text = (x: number, y: number, s: string, size: number, family = FONT) => ({
      type: "text",
      x,
      y,
      silent: true,
      z: 20,
      style: {
        text: s,
        fill: "#000000",
        fontSize: size,
        fontFamily: family,
        align: "center",
        verticalAlign: "middle",
        textAlign: "center",
        textVerticalAlign: "middle",
      },
    });
    for (let r = 0; r < 2; r++) {
      for (let c = 0; c < 3; c++) {
        graphic.push(text(COL_LEFT[c] + COL_WIDTH[c] / 2, ROW_TOP[r] - 9.5, TITLES[r][c], 12));
      }
      graphic.push(text(INSET_LEFT + INSET_WIDTH / 2, INSET_TOP[r] - 9.5, "IMF", 8.5));
    }
    graphic.push(text(1021, 12, "10", 12, "Liberation Serif"));

    const boxes = [
      { main: 0, inset: 6, ts: F1_BOX_T, vs: F1_BOX_V, iv: imf1Range },
      { main: 3, inset: 7, ts: F2_BOX_T, vs: F2_BOX_V, iv: imf2Range },
    ];
    for (const b of boxes) {
      const a1 = chart.convertToPixel({ xAxisIndex: b.main, yAxisIndex: b.main }, [b.ts[1], b.vs[1]]) as number[];
      const b1 = chart.convertToPixel({ xAxisIndex: b.inset, yAxisIndex: b.inset }, [imfTRange[1], b.iv[1]]) as number[];
      const a2 = chart.convertToPixel({ xAxisIndex: b.main, yAxisIndex: b.main }, [b.ts[0], b.vs[0]]) as number[];
      const b2 = chart.convertToPixel({ xAxisIndex: b.inset, yAxisIndex: b.inset }, [imfTRange[0], b.iv[0]]) as number[];
      for (const [p, q] of [[a1, b1], [a2, b2]]) {
        graphic.push({
          type: "line",
          silent: true,
          z: 5,
          shape: { x1: p[0], y1: p[1], x2: q[0], y2: q[1] },
          style: { stroke: "#000", lineWidth: 1 },
        });
      }
    }
    chart.setOption({ graphic });

    return () => chart.dispose();
  }, []);

  return (
    <div
      ref={ref}
      style={{ position: "fixed", left: 0, top: 0, width: 1035, height: 510, background: "#ffffff" }}
    />
  );
}
